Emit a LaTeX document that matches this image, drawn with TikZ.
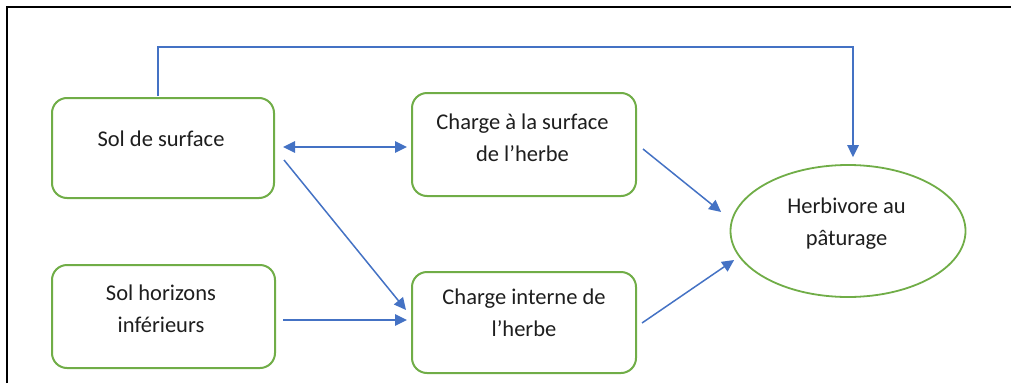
\documentclass[tikz,border=0pt]{standalone}
\usepackage{fontspec}
\setmainfont{Carlito}
\usetikzlibrary{arrows.meta,calc,shapes.geometric}
\definecolor{boxgreen}{HTML}{70AD47}
\definecolor{linkblue}{HTML}{4472C4}
\definecolor{inktext}{HTML}{1E1E1E}
\tikzset{
  stepbox/.style={draw=boxgreen, line width=2pt, rounded corners=15pt, fill=white},
  goalshape/.style={draw=boxgreen, line width=1.8pt, ellipse, fill=white},
  caption/.style={text=inktext, align=center,
    font=\fontsize{22.5pt}{32.5pt}\selectfont, inner sep=0pt},
  tip/.style={Triangle[length=12pt,width=11.5pt]},
  link/.style={draw=linkblue, line width=1.5pt, -{Triangle[length=12pt,width=11.5pt]}},
  duallink/.style={draw=linkblue, line width=1.5pt,
    {Triangle[length=12pt,width=11.5pt]}-{Triangle[length=12pt,width=11.5pt]}}
}
\begin{document}
\begin{tikzpicture}[x=1pt,y=-1pt]
  \useasboundingbox (0,0) rectangle (1011,383);
  % outer frame: left and top edges only
  \draw[line width=2.5pt, black] (7,383) -- (7,7) -- (1011,7);

  % boxes
  \node[stepbox, minimum width=222pt, minimum height=100pt] (s1) at (163,148) {};
  \node[stepbox, minimum width=223pt, minimum height=103pt] (s2) at (163.5,316.5) {};
  \node[stepbox, minimum width=224pt, minimum height=103pt] (c1) at (524,144.5) {};
  \node[stepbox, minimum width=224pt, minimum height=101pt] (c2) at (524,322.5) {};
  \node[goalshape, minimum width=235pt, minimum height=132pt, inner sep=0pt] (e) at (848,231) {};

  % captions
  \node[caption] (t1) at (161,139) {Sol de surface};
  \node[caption] (t2) at (161,309) {Sol horizons\\inférieurs};
  \node[caption] (t3) at (522.5,138) {Charge à la surface\\de l’herbe};
  \node[caption] (t4) at (524,313) {Charge interne de\\l’herbe};
  \node[caption] (t5) at (846.5,223.5) {Herbivore au\\pâturage};

  % connectors
  \draw[duallink] ([xshift=8pt,yshift=1pt]s1.east) -- ([xshift=-4pt,yshift=-2.5pt]c1.west);
  \draw[link] ([xshift=9pt,yshift=-12pt]s1.east) -- ([xshift=-5pt,yshift=12.5pt]c2.west);
  \draw[link] ([xshift=7pt,yshift=-3.5pt]s2.east) -- ([xshift=-4pt,yshift=2.5pt]c2.west);
  \draw[link] ([xshift=6pt,yshift=-4.5pt]c1.east) -- ([xshift=-8.5pt,yshift=19pt]e.west);
  \draw[link] ([xshift=5pt,yshift=-0.5pt]c2.east) -- ([xshift=4.5pt,yshift=-29pt]e.west);
  \coordinate (ridge) at (500,47);
  \draw[link] ([xshift=-5pt,yshift=1pt]s1.north) |- (ridge) -| ([xshift=5pt,yshift=7pt]e.north);
\end{tikzpicture}
\end{document}
